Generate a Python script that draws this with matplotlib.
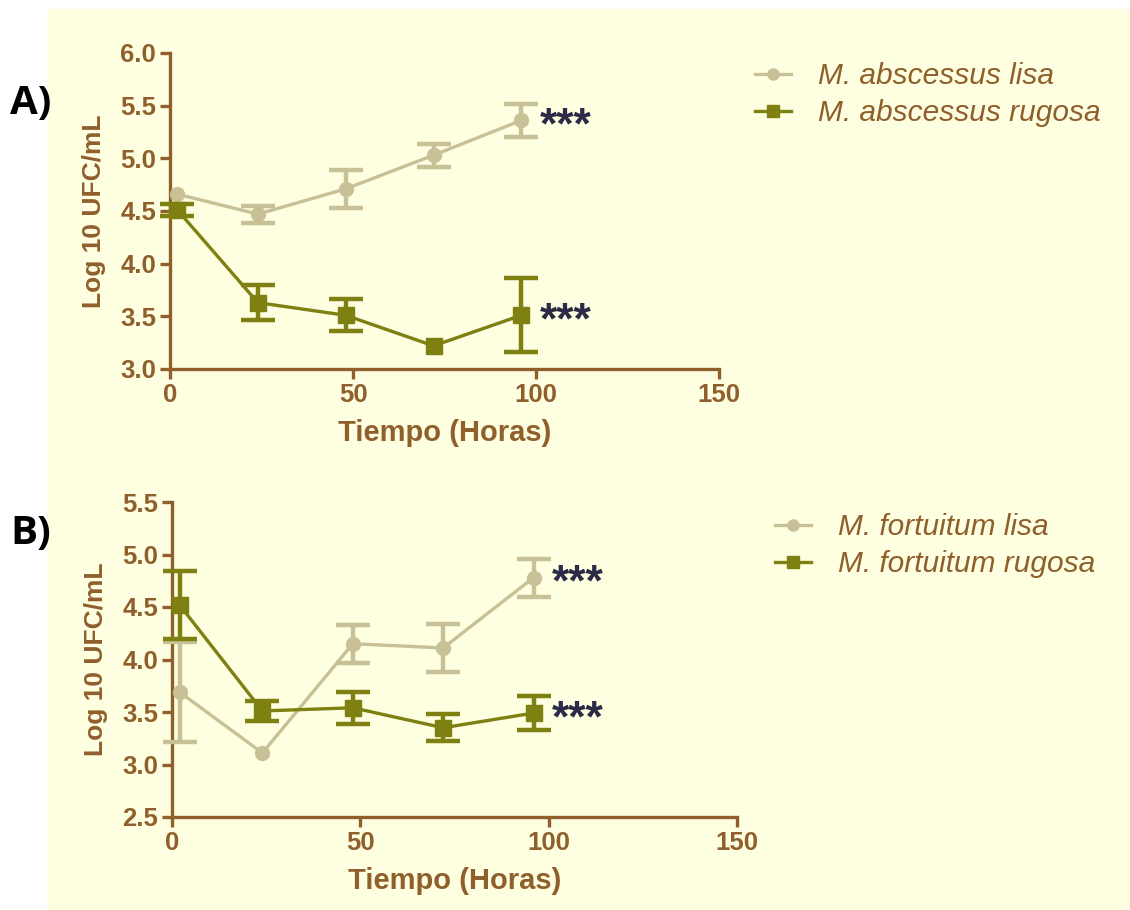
import numpy as np
import matplotlib.pyplot as plt
from matplotlib.patches import Rectangle

# time points (hours)
horas = [2, 24, 48, 72, 96]

# A) M. abscessus  (nan = error bar hidden behind the symbol)
abs_lisa = [4.66, 4.47, 4.71, 5.03, 5.36]
abs_lisa_err = [np.nan, 0.08, 0.18, 0.11, 0.16]
abs_rug = [4.51, 3.63, 3.51, 3.22, 3.51]
abs_rug_err = [0.06, 0.165, 0.15, np.nan, 0.35]

# B) M. fortuitum
fort_lisa = [3.69, 3.11, 4.15, 4.11, 4.78]
fort_lisa_err = [0.48, np.nan, 0.18, 0.23, 0.18]
fort_rug = [4.52, 3.51, 3.54, 3.35, 3.49]
fort_rug_err = [0.32, 0.095, 0.155, 0.13, 0.165]

c_lisa = '#c8c197'
c_rug = '#7e8012'
c_axis = '#8f5f2c'
c_star = '#2b2b48'
cream = '#fefee0'

plt.rcParams['font.family'] = ['Liberation Sans', 'DejaVu Sans']

fig = plt.figure(figsize=(11.3, 9.1), dpi=100)
fig.patch.set_facecolor('white')
fig.patches.append(Rectangle((47/1130, 0), 1 - 47/1130, 1 - 9/910,
                             transform=fig.transFigure, facecolor=cream,
                             edgecolor='none', zorder=-10))

axA = fig.add_axes([170/1130, 1 - 369/910, (719-170)/1130, (369-53)/910])
axB = fig.add_axes([172/1130, 1 - 817/910, (737-172)/1130, (817-502)/910])


def panel(ax, lisa, lisa_err, rug, rug_err, ylim, yticks, names, leg_pos, hl):
    ax.set_facecolor('none')
    el = ax.errorbar(horas, lisa, yerr=lisa_err, color=c_lisa, lw=2.4,
                     marker='o', ms=10, elinewidth=3.2, capsize=12, capthick=3.2,
                     clip_on=False, zorder=3)
    er = ax.errorbar(horas, rug, yerr=rug_err, color=c_rug, lw=2.4,
                     marker='s', ms=11, elinewidth=3.2, capsize=12, capthick=3.2,
                     clip_on=False, zorder=4)
    ax.set_xlim(0, 150)
    ax.set_ylim(*ylim)
    ax.set_xticks([0, 50, 100, 150])
    ax.set_yticks(yticks)
    ax.set_yticklabels(['%.1f' % v for v in yticks])
    for s in ['top', 'right']:
        ax.spines[s].set_visible(False)
    for s in ['left', 'bottom']:
        ax.spines[s].set_color(c_axis)
        ax.spines[s].set_linewidth(2.4)
    ax.tick_params(colors=c_axis, width=2.4, length=7, labelsize=18.5, pad=3)
    for lab in ax.get_xticklabels() + ax.get_yticklabels():
        lab.set_fontweight('bold')
    ax.set_xlabel('Tiempo (Horas)', fontsize=21, fontweight='bold',
                  color=c_axis, labelpad=9)
    ax.set_ylabel('Log 10 UFC/mL', fontsize=19, fontweight='bold',
                  color=c_axis, labelpad=10)
    for yv in (lisa[-1], rug[-1]):
        ax.annotate('***', (horas[-1], yv), xytext=(13, -13),
                    textcoords='offset points', fontsize=32, fontweight='bold',
                    color=c_star, va='baseline', ha='left')
    leg = ax.legend([el[0], er[0]], names, loc='upper left',
                    bbox_to_anchor=leg_pos, bbox_transform=fig.transFigure,
                    frameon=False, fontsize=21.5, handlelength=1.2,
                    handletextpad=0.9, labelspacing=0.3, markerscale=0.8,
                    borderpad=0, borderaxespad=0)
    leg.handlelength = hl
    for t in leg.get_texts():
        t.set_color(c_axis)
        t.set_fontstyle('italic')


panel(axA, abs_lisa, abs_lisa_err, abs_rug, abs_rug_err, (3.0, 6.0),
      [3.0, 3.5, 4.0, 4.5, 5.0, 5.5, 6.0],
      ['M. abscessus lisa', 'M. abscessus rugosa'],
      (755/1130, 1 - 62/910), 1.2)
panel(axB, fort_lisa, fort_lisa_err, fort_rug, fort_rug_err, (2.5, 5.5),
      [2.5, 3.0, 3.5, 4.0, 4.5, 5.0, 5.5],
      ['M. fortuitum lisa', 'M. fortuitum rugosa'],
      (775/1130, 1 - 513/910), 1.35)

fig.text(10/1130, 1 - 103/910, 'A)', fontsize=29, fontweight='bold',
         family=['Open Sans', 'DejaVu Sans'], va='center', ha='left')
fig.text(10/1130, 1 - 533/910, 'B)', fontsize=29, fontweight='bold',
         family=['Open Sans', 'DejaVu Sans'], va='center', ha='left')

fig.savefig('out.png', dpi=100)
